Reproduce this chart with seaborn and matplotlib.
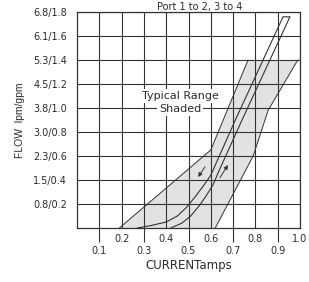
import matplotlib
matplotlib.use("Agg")
import matplotlib.pyplot as plt
import seaborn as sns
import pandas as pd
from matplotlib.ticker import FixedLocator, FixedFormatter

# ---- data ----
x_odd_ticks = [0.1, 0.3, 0.5, 0.7, 0.9]
x_odd_labels = ["0.1", "0.3", "0.5", "0.7", "0.9"]
x_even_ticks = [0.2, 0.4, 0.6, 0.8, 1.0]
x_even_labels = ["0.2", "0.4", "0.6", "0.8", "1.0"]
y_ticks = [0.2, 0.4, 0.6, 0.8, 1.0, 1.2, 1.4, 1.6, 1.8]
y_labels = ["0.8/0.2", "1.5/0.4", "2.3/0.6", "3.0/0.8", "3.8/1.0",
            "4.5/1.2", "5.3/1.4", "6.1/1.6", "6.8/1.8"]

# shaded typical range band
band_left_x = [0.19, 0.60, 0.767]
band_left_y = [0.00, 0.65, 1.40]
band_right_x = [0.99, 0.857, 0.79, 0.62]
band_right_y = [1.40, 0.98, 0.60, 0.00]

# hysteresis loop (decreasing branch on the left, increasing on the right)
dec_x = [0.27, 0.33, 0.40, 0.45, 0.49, 0.53, 0.57, 0.60, 0.71, 0.924]
dec_y = [0.00, 0.02, 0.05, 0.10, 0.17, 0.26, 0.36, 0.44, 0.90, 1.76]
inc_x = [0.955, 0.74, 0.64, 0.61, 0.58, 0.55, 0.51, 0.47, 0.42]
inc_y = [1.76, 0.90, 0.49, 0.36, 0.27, 0.19, 0.10, 0.04, 0.00]

title = "Port 1 to 2, 3 to 4"
xlabel = "CURRENTamps"
ylabel = "FLOW  lpm/gpm"
note1 = "Typical Range"
note2 = "Shaded"

# ---- figure ----
sns.set_theme(style="white")
plt.rcParams["font.family"] = ["DejaVu Sans"]
fig = plt.figure(figsize=(3.09, 2.82), dpi=100)
ax = fig.add_axes([77 / 309, 1 - 228 / 282, 223 / 309, 216 / 282])

line_c = "#333333"
text_c = "#2a2a2a"

# band
ax.fill(band_left_x + band_right_x, band_left_y + band_right_y,
        color="#e2e2e2", lw=0, zorder=1)
band_l = pd.DataFrame({"x": band_left_x, "y": band_left_y})
band_r = pd.DataFrame({"x": band_right_x, "y": band_right_y})
sns.lineplot(data=band_l, x="x", y="y", sort=False, estimator=None,
             color=line_c, lw=0.7, ax=ax, zorder=3)
sns.lineplot(data=band_r, x="x", y="y", sort=False, estimator=None,
             color=line_c, lw=0.7, ax=ax, zorder=3)

# loop
loop = pd.DataFrame({"x": dec_x + inc_x, "y": dec_y + inc_y})
sns.lineplot(data=loop, x="x", y="y", sort=False, estimator=None,
             color=line_c, lw=0.8, ax=ax, zorder=3)

# direction arrows
ax.annotate("", xy=(0.543, 0.425), xytext=(0.574, 0.51),
            arrowprops=dict(arrowstyle="-|>", lw=0.7, color=line_c,
                            mutation_scale=6, shrinkA=0, shrinkB=0), zorder=4)
ax.annotate("", xy=(0.677, 0.525), xytext=(0.641, 0.42),
            arrowprops=dict(arrowstyle="-|>", lw=0.7, color=line_c,
                            mutation_scale=6, shrinkA=0, shrinkB=0), zorder=4)

# notes with white boxes hiding grid
ax.text(0.466, 1.10, note1, ha="center", va="center", fontsize=8,
        color=text_c, zorder=5,
        bbox=dict(boxstyle="square,pad=0.2", fc="white", ec="none"))
ax.text(0.462, 0.99, note2, ha="center", va="center", fontsize=8,
        color=text_c, zorder=5,
        bbox=dict(boxstyle="square,pad=0.2", fc="white", ec="none"))

ax.set_xlim(0, 1.0)
ax.set_ylim(0, 1.8)

ax.xaxis.set_major_locator(FixedLocator(x_odd_ticks))
ax.xaxis.set_major_formatter(FixedFormatter(x_odd_labels))
ax.xaxis.set_minor_locator(FixedLocator(x_even_ticks))
ax.xaxis.set_minor_formatter(FixedFormatter(x_even_labels))
ax.yaxis.set_major_locator(FixedLocator(y_ticks))
ax.yaxis.set_major_formatter(FixedFormatter(y_labels))

ax.tick_params(axis="x", which="major", length=10, width=0.8, color=line_c,
               pad=3.0, labelsize=7, labelcolor=text_c, direction="out",
               bottom=True)
ax.tick_params(axis="x", which="minor", length=0, pad=4.5, labelsize=7,
               labelcolor=text_c, bottom=True)
ax.tick_params(axis="y", which="major", length=0, pad=7, labelsize=7,
               labelcolor=text_c)

ax.set_axisbelow(False)
ax.grid(True, which="both", color=line_c, lw=0.8)
for s in ax.spines.values():
    s.set_color(line_c)
    s.set_linewidth(0.9)

ax.set_xlabel(xlabel, fontsize=8.5, color=text_c, labelpad=2)
ax.set_ylabel(ylabel, fontsize=7.5, color=text_c, labelpad=6,
              family=["Liberation Sans Narrow", "Liberation Sans", "DejaVu Sans"])

fig.text(0.645, 1 - 10 / 282, title, ha="center", va="baseline",
         fontsize=7, color=text_c)

fig.savefig("out.png", dpi=100)
